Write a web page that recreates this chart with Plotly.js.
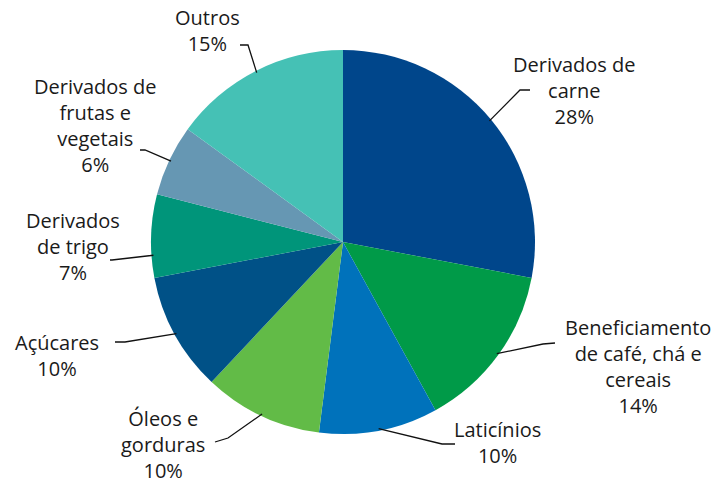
<!DOCTYPE html>
<html>
<head>
<meta charset="utf-8">
<script src="https://cdn.plot.ly/plotly-3.0.1.min.js"></script>
<style>html,body{margin:0;padding:0;background:#fff}#chart{width:720px;height:486px}</style>
</head>
<body>
<div id="chart"></div>
<script>
// Data
const categories = [
  "Derivados de<br>carne",
  "Beneficiamento<br>de café, chá e<br>cereais",
  "Laticínios",
  "Óleos e<br>gorduras",
  "Açúcares",
  "Derivados<br>de trigo",
  "Derivados de<br>frutas e<br>vegetais",
  "Outros"
];
const shares = [28, 14, 10, 10, 10, 7, 6, 15];
const colors = ["#00468b", "#009a48", "#0072bb", "#62bb47", "#005187", "#00957a", "#6697b3", "#45c1b5"];

// Layout geometry (pixels)
const W = 720, H = 486;
const CX = 343, CY = 242, R = 192;
// label centre, leader-line elbow & end, and where along the slice the line starts
const labelPos = [
  {cx: 574, cy: 91,  elbow: [520, 90],  end: [530, 90],  f: 0.5},
  {cx: 638, cy: 366, elbow: [543, 344], end: [555, 343], f: 0.5},
  {cx: 497, cy: 442, elbow: [442, 444], end: [455, 444], f: 0.5},
  {cx: 163, cy: 444, elbow: [228, 438], end: [215, 442], f: 0.5},
  {cx: 57,  cy: 355, elbow: [125, 342], end: [115, 342], f: 0.5},
  {cx: 73,  cy: 247, elbow: [112, 260], end: [110, 260], f: 0.27},
  {cx: 95,  cy: 125, elbow: [145, 150], end: [140, 150], f: 0.5},
  {cx: 208, cy: 31,  elbow: [248, 45],  end: [240, 45],  f: 0.5}
];

const px = x => x / W;
const py = y => 1 - y / H;

const total = shares.reduce((a, b) => a + b, 0);
let cum = 0;
const annotations = [], shapes = [];
shares.forEach((v, i) => {
  const a0 = cum / total * 360;
  const a1 = (cum + v) / total * 360;
  cum += v;
  const L = labelPos[i];
  const ang = (a0 + (a1 - a0) * L.f) * Math.PI / 180;
  const sx = CX + R * 0.99 * Math.sin(ang);
  const sy = CY - R * 0.99 * Math.cos(ang);
  shapes.push({
    type: "path", xref: "paper", yref: "paper",
    path: `M ${px(sx)} ${py(sy)} L ${px(L.elbow[0])} ${py(L.elbow[1])} L ${px(L.end[0])} ${py(L.end[1])}`,
    line: {color: "#111", width: 1.3}
  });
  annotations.push({
    xref: "paper", yref: "paper", x: px(L.cx), y: py(L.cy),
    xanchor: "center", yanchor: "middle", showarrow: false, align: "center",
    borderpad: 0,
    text: categories[i] + "<br>" + v + "%",
    font: {family: "Open Sans, Lato, sans-serif", size: 20, color: "#1a1a1a"}
  });
});

const trace = {
  type: "pie",
  values: shares,
  labels: categories.map(c => c.replace(/<br>/g, " ")),
  marker: {colors: colors, line: {width: 0}},
  sort: false,
  direction: "clockwise",
  rotation: 0,
  textinfo: "none",
  hoverinfo: "label+percent",
  domain: {x: [(CX - R) / W, (CX + R) / W], y: [1 - (CY + R) / H, 1 - (CY - R) / H]},
  showlegend: false
};

Plotly.newPlot("chart", [trace], {
  width: W, height: H,
  margin: {l: 0, r: 0, t: 0, b: 0},
  paper_bgcolor: "#fff",
  showlegend: false,
  annotations: annotations,
  shapes: shapes
}, {displayModeBar: false, staticPlot: true});
</script>
</body>
</html>
